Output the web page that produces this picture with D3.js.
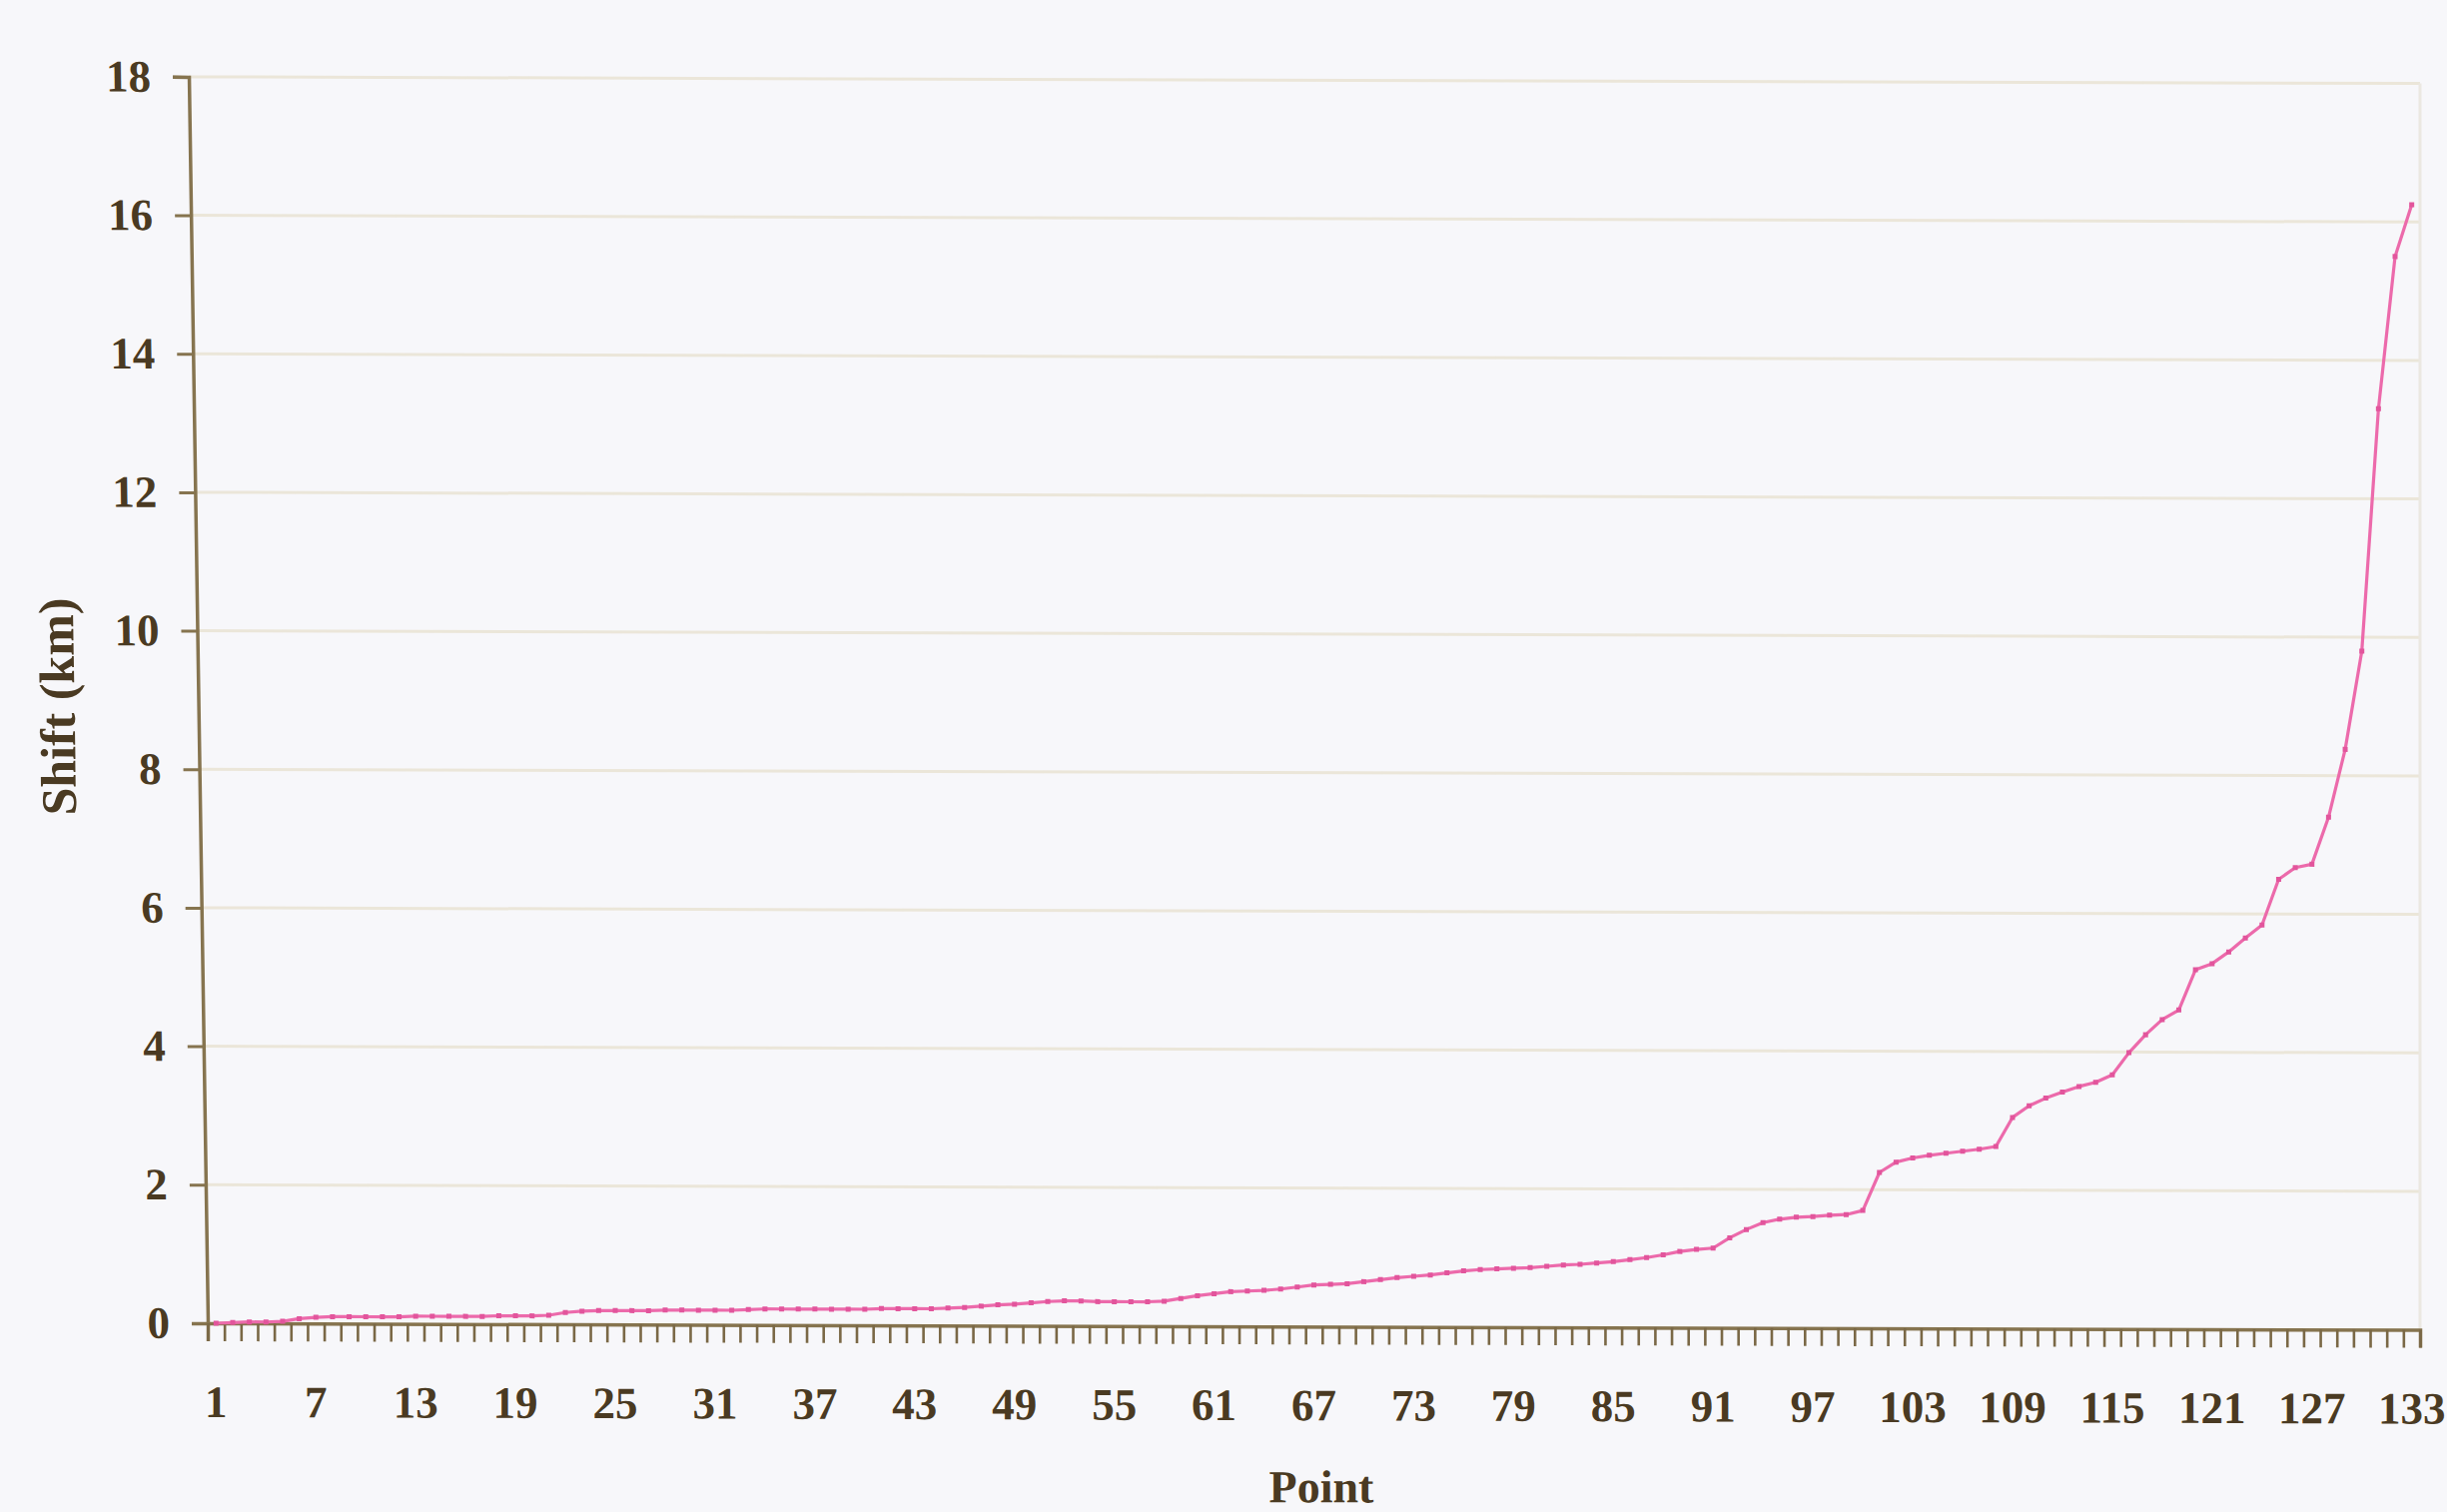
<!DOCTYPE html>
<html>
<head>
<meta charset="utf-8">
<script src="https://cdn.jsdelivr.net/npm/d3@7/dist/d3.min.js"></script>
<style>
  html, body { margin: 0; padding: 0; background: #f7f7fa; }
  svg { display: block; }
</style>
</head>
<body>
<script>
// ---- data ----
const shiftKm = [
  0.00, 0.01, 0.02, 0.02, 0.03, 0.07, 0.09, 0.10, 0.10, 0.10,
  0.10, 0.10, 0.11, 0.11, 0.11, 0.11, 0.11, 0.12, 0.12, 0.12,
  0.13, 0.17, 0.19, 0.20, 0.20, 0.20, 0.20, 0.21, 0.21, 0.21,
  0.21, 0.21, 0.22, 0.23, 0.23, 0.23, 0.23, 0.23, 0.23, 0.23,
  0.24, 0.24, 0.24, 0.24, 0.25, 0.26, 0.28, 0.30, 0.31, 0.33,
  0.35, 0.36, 0.36, 0.35, 0.35, 0.35, 0.35, 0.36, 0.40, 0.44,
  0.47, 0.50, 0.51, 0.52, 0.54, 0.57, 0.60, 0.61, 0.62, 0.65,
  0.68, 0.71, 0.73, 0.75, 0.78, 0.81, 0.83, 0.84, 0.85, 0.86,
  0.88, 0.90, 0.91, 0.93, 0.95, 0.98, 1.01, 1.05, 1.10, 1.13,
  1.15, 1.30, 1.42, 1.52, 1.57, 1.60, 1.61, 1.63, 1.64, 1.70,
  2.25, 2.40, 2.46, 2.50, 2.53, 2.56, 2.59, 2.63, 3.05, 3.22,
  3.33, 3.42, 3.50, 3.56, 3.67, 3.99, 4.25, 4.47, 4.61, 5.19,
  5.28, 5.45, 5.65, 5.84, 6.50, 6.67, 6.72, 7.40, 8.38, 9.80,
  13.30, 15.50, 16.25
];
const points = d3.range(1, shiftKm.length + 1);           // category index 1..133
const xTickLabels = ["1","7","13","19","25","31","37","43","49","55","61","67","73",
                     "79","85","91","97","103","109","115","121","127","133"];
const yTicks = [0, 2, 4, 6, 8, 10, 12, 14, 16, 18];
const xTitle = "Point";
const yTitle = "Shift (km)";

// ---- layout ----
const W = 2450, H = 1514;
const plotL = 208, plotR = 2423, plotT = 77, plotB = 1325;
const lean = 0.0152;        // scanned page: left axis leans
const textColor = "#4a3a22";
const axisColor = "#86744f";
const fontFam = "'Liberation Serif', 'Times New Roman', serif";

const svg = d3.select("body").append("svg")
  .attr("width", W).attr("height", H)
  .style("font-family", fontFam);

svg.append("rect").attr("width", W).attr("height", H).attr("fill", "#f7f7fa");

const g = svg.append("g")
  .attr("transform", `matrix(1,0.003,0,1,0,${-0.003 * 218})`);

const x = d3.scaleBand().domain(points).range([plotL, plotR]).padding(0);
const xEdge = d3.scaleLinear().domain([0.5, points.length + 0.5]).range([plotL, plotR]);
const y = d3.scaleLinear().domain([0, 18]).range([plotB, plotT]);
const axisXAt = v => plotL + lean * (y(v) - plotB);

// gridlines
g.append("g").selectAll("line")
  .data(yTicks.filter(d => d > 0))
  .join("line")
  .attr("x1", d => axisXAt(d)).attr("x2", plotR)
  .attr("y1", d => y(d)).attr("y2", d => y(d))
  .attr("stroke", "#ebe6d9").attr("stroke-width", 3);

// right border of plot area
g.append("line")
  .attr("x1", plotR).attr("x2", plotR).attr("y1", y(18)).attr("y2", y(0))
  .attr("stroke", "#ebe8e1").attr("stroke-width", 3);

// leaning group for the y axis and its title
const gy = g.append("g")
  .attr("transform", `matrix(1,0,${lean},1,${-lean * plotB},0)`);

const yAxis = gy.append("g")
  .attr("transform", `translate(${plotL},0)`)
  .call(d3.axisLeft(y).tickValues(yTicks).tickSize(16).tickPadding(22).tickFormat(d3.format("d")));
yAxis.select(".domain").attr("stroke", axisColor).attr("stroke-width", 3.5);
yAxis.selectAll(".tick line").attr("stroke", axisColor).attr("stroke-width", 3);
yAxis.selectAll(".tick text")
  .attr("fill", textColor).attr("font-size", 45).attr("font-weight", "bold")
  .attr("font-family", fontFam);

gy.append("text")
  .attr("transform", "translate(84,708) rotate(-90)")
  .attr("text-anchor", "middle")
  .attr("font-size", 50).attr("font-weight", "bold")
  .attr("fill", textColor)
  .text(yTitle);

// x axis tick marks at category boundaries
const xTickMarks = g.append("g")
  .attr("transform", `translate(0,${plotB})`)
  .call(d3.axisBottom(xEdge).tickValues(d3.range(0.5, points.length + 1, 1)).tickSize(18).tickFormat(""));
xTickMarks.select(".domain").attr("stroke", axisColor).attr("stroke-width", 3.5);
xTickMarks.selectAll(".tick line").attr("stroke", "#7a6846").attr("stroke-width", 2.6);

// x axis labels
const xLabels = g.append("g")
  .attr("transform", `translate(0,${plotB})`)
  .call(d3.axisBottom(x).tickValues(xTickLabels.map(Number)).tickSize(0).tickPadding(62));
xLabels.select(".domain").remove();
xLabels.selectAll(".tick text")
  .attr("fill", textColor).attr("font-size", 45).attr("font-weight", "bold")
  .attr("font-family", fontFam);

// line
const line = d3.line()
  .x((d, i) => x(points[i]) + x.bandwidth() / 2)
  .y(d => y(d));

g.append("path")
  .datum(shiftKm)
  .attr("d", line)
  .attr("fill", "none")
  .attr("stroke", "#ec6aab")
  .attr("stroke-width", 3.2)
  .attr("stroke-linejoin", "round");

g.append("g").selectAll("rect")
  .data(shiftKm)
  .join("rect")
  .attr("x", (d, i) => x(points[i]) + x.bandwidth() / 2 - 2.5)
  .attr("y", d => y(d) - 2.5)
  .attr("width", 5).attr("height", 5)
  .attr("fill", "#e2559c");

// x axis title
g.append("text")
  .attr("x", 1323).attr("y", 1501)
  .attr("text-anchor", "middle")
  .attr("font-size", 46).attr("font-weight", "bold")
  .attr("fill", textColor)
  .text(xTitle);
</script>
</body>
</html>
